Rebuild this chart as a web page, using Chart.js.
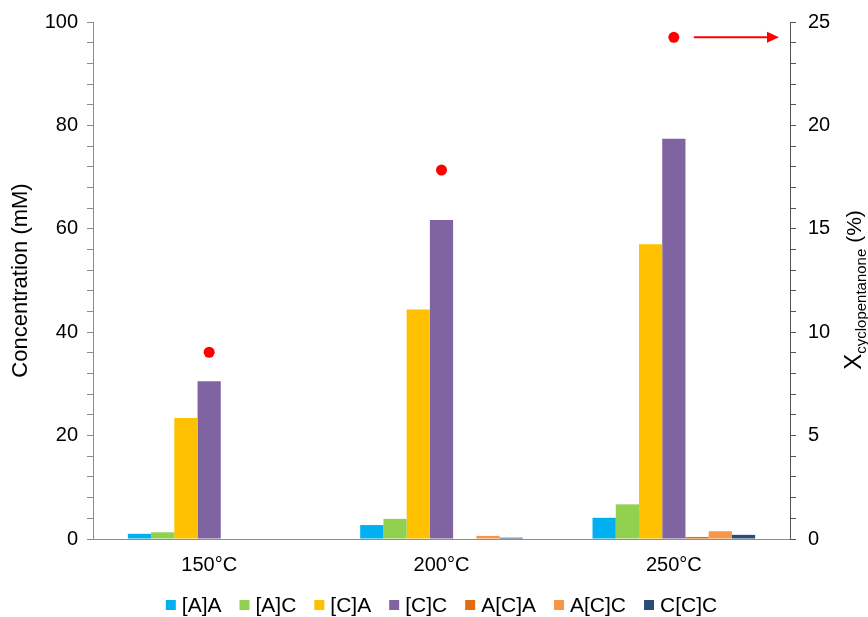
<!DOCTYPE html>
<html>
<head>
<meta charset="utf-8">
<script src="https://cdn.jsdelivr.net/npm/chart.js@4/dist/chart.umd.min.js"></script>
<style>
  html, body { margin: 0; padding: 0; background: #fff; }
  #wrap { width: 868px; height: 617px; position: relative; }
</style>
</head>
<body>
<div id="wrap"><canvas id="c"></canvas></div>
<script>
// Reaction temperatures (x categories)
const temperatures = ['150°C', '200°C', '250°C'];

// Product concentrations, mM
const seriesNames = ['[A]A', '[A]C', '[C]A', '[C]C', 'A[C]A', 'A[C]C', 'C[C]C'];
const seriesColors = ['#00B0F0', '#92D050', '#FFC000', '#8064A2', '#E46C0A', '#F79646', '#2A4D78'];
const concAA  = [1.0, 2.7, 4.1];
const concAC  = [1.3, 3.9, 6.7];
const concCA  = [23.4, 44.4, 57.0];
const concCC  = [30.5, 61.7, 77.4];
const concACA = [0, 0, 0.4];
const concACC = [0, 0.6, 1.5];
const concCCC = [0, 0.25, 0.8];
const seriesValues = [concAA, concAC, concCA, concCC, concACA, concACC, concCCC];

// Cyclopentanone conversion, %
const conversion = [9.03, 17.84, 24.26];

// Axis ranges
const concMax = 100, concMajor = 20, concMinor = 4;
const convMax = 25, convMajor = 5, convMinor = 1;

const FONT = "'Liberation Sans', Arial, sans-serif";
const AXIS_GREY = '#8c8c8c';

const datasets = seriesNames.map((name, i) => ({
  type: 'bar',
  label: name,
  data: seriesValues[i],
  backgroundColor: seriesColors[i],
  borderWidth: 0,
  yAxisID: 'y',
  barPercentage: 1.0,
  categoryPercentage: 0.70,
  order: 2
}));

datasets.push({
  type: 'line',
  label: 'X',
  data: conversion,
  yAxisID: 'y2',
  showLine: false,
  pointRadius: 5.5,
  pointHoverRadius: 5.5,
  pointBackgroundColor: '#FF0000',
  pointBorderWidth: 0,
  borderColor: '#FF0000',
  order: 1
});

// Bottom legend, right-axis title (with subscript) and the arrow linking the
// conversion points to their axis
const decorations = {
  id: 'decorations',
  afterDraw(chart) {
    const ctx = chart.ctx;
    const area = chart.chartArea;

    // legend
    ctx.save();
    ctx.font = '21px ' + FONT;
    ctx.textBaseline = 'middle';
    ctx.textAlign = 'left';
    const box = 10, gapBox = 6, gapItem = 18;
    const widths = seriesNames.map(n => ctx.measureText(n).width);
    let total = 0;
    widths.forEach((w, i) => { total += box + gapBox + w + (i < widths.length - 1 ? gapItem : 0); });
    let x = (area.left + area.right) / 2 - total / 2;
    const ly = 605;
    seriesNames.forEach((n, i) => {
      ctx.fillStyle = seriesColors[i];
      ctx.fillRect(x, ly - box / 2, box, box);
      ctx.fillStyle = '#000';
      ctx.fillText(n, x + box + gapBox, ly + 1);
      x += box + gapBox + widths[i] + gapItem;
    });
    ctx.restore();

    // right axis title: X_cyclopentanone (%)
    ctx.save();
    ctx.translate(853, 290);
    ctx.rotate(-Math.PI / 2);
    ctx.fillStyle = '#000';
    ctx.textBaseline = 'alphabetic';
    ctx.textAlign = 'left';
    const parts = [
      { t: 'X', f: '24px ' + FONT, dy: 0 },
      { t: 'cyclopentanone', f: '15px ' + FONT, dy: 5 },
      { t: ' (%)', f: '21px ' + FONT, dy: 0 }
    ];
    let tw = 0;
    parts.forEach(p => { ctx.font = p.f; p.w = ctx.measureText(p.t).width; tw += p.w; });
    let px = -tw / 2;
    parts.forEach(p => {
      ctx.font = p.f;
      ctx.fillText(p.t, px, 8 + p.dy);
      px += p.w;
    });
    ctx.restore();

    // arrow from the last conversion point to the right axis
    const meta = chart.getDatasetMeta(chart.data.datasets.length - 1);
    const pt = meta.data[meta.data.length - 1];
    if (pt) {
      const y = pt.y;
      const x0 = pt.x + 20;
      const x1 = area.right - 11;
      ctx.save();
      ctx.strokeStyle = '#FF0000';
      ctx.fillStyle = '#FF0000';
      ctx.lineWidth = 2;
      ctx.beginPath();
      ctx.moveTo(x0, y);
      ctx.lineTo(x1 - 10, y);
      ctx.stroke();
      ctx.beginPath();
      ctx.moveTo(x1, y);
      ctx.lineTo(x1 - 12, y - 5.5);
      ctx.lineTo(x1 - 12, y + 5.5);
      ctx.closePath();
      ctx.fill();
      ctx.restore();
    }
  }
};

// fixed axis box widths; the layout padding alone sets the plot's top edge
function fixVertical(width) {
  return s => {
    s.width = width;
    s.paddingTop = 0;
    s.paddingBottom = 0;
  };
}

new Chart(document.getElementById('c'), {
  data: { labels: temperatures, datasets },
  options: {
    responsive: true,
    maintainAspectRatio: false,
    animation: false,
    layout: { padding: { top: 22, bottom: 40, left: 0, right: 0 } },
    plugins: {
      legend: { display: false },
      tooltip: { enabled: false }
    },
    scales: {
      x: {
        type: 'category',
        grid: { display: false, drawTicks: false },
        border: { display: true, color: AXIS_GREY, width: 1 },
        ticks: { color: '#000', font: { size: 20, family: FONT }, padding: 14 },
        afterFit(s) { s.height = 38; }
      },
      y: {
        type: 'linear',
        position: 'left',
        min: 0,
        max: concMax,
        grid: { display: true, drawOnChartArea: false, drawTicks: true, tickLength: 6, color: AXIS_GREY },
        border: { display: true, color: AXIS_GREY, width: 1 },
        ticks: {
          stepSize: concMinor,
          autoSkip: false,
          maxTicksLimit: 100,
          color: '#000',
          font: { size: 20, family: FONT },
          padding: 9,
          callback: v => (v % concMajor === 0 ? v : '')
        },
        title: {
          display: true,
          text: 'Concentration (mM)',
          color: '#000',
          font: { size: 22, family: FONT },
          padding: { top: 8, bottom: 0 }
        },
        afterFit: fixVertical(93)
      },
      y2: {
        type: 'linear',
        position: 'right',
        min: 0,
        max: convMax,
        grid: { display: true, drawOnChartArea: false, drawTicks: true, tickLength: 6, color: '#555' },
        border: { display: true, color: '#555', width: 1 },
        ticks: {
          stepSize: convMinor,
          autoSkip: false,
          maxTicksLimit: 100,
          color: '#000',
          font: { size: 20, family: FONT },
          padding: 12,
          callback: v => (v % convMajor === 0 ? v : '')
        },
        afterFit: fixVertical(78)
      }
    }
  },
  plugins: [decorations]
});
</script>
</body>
</html>
